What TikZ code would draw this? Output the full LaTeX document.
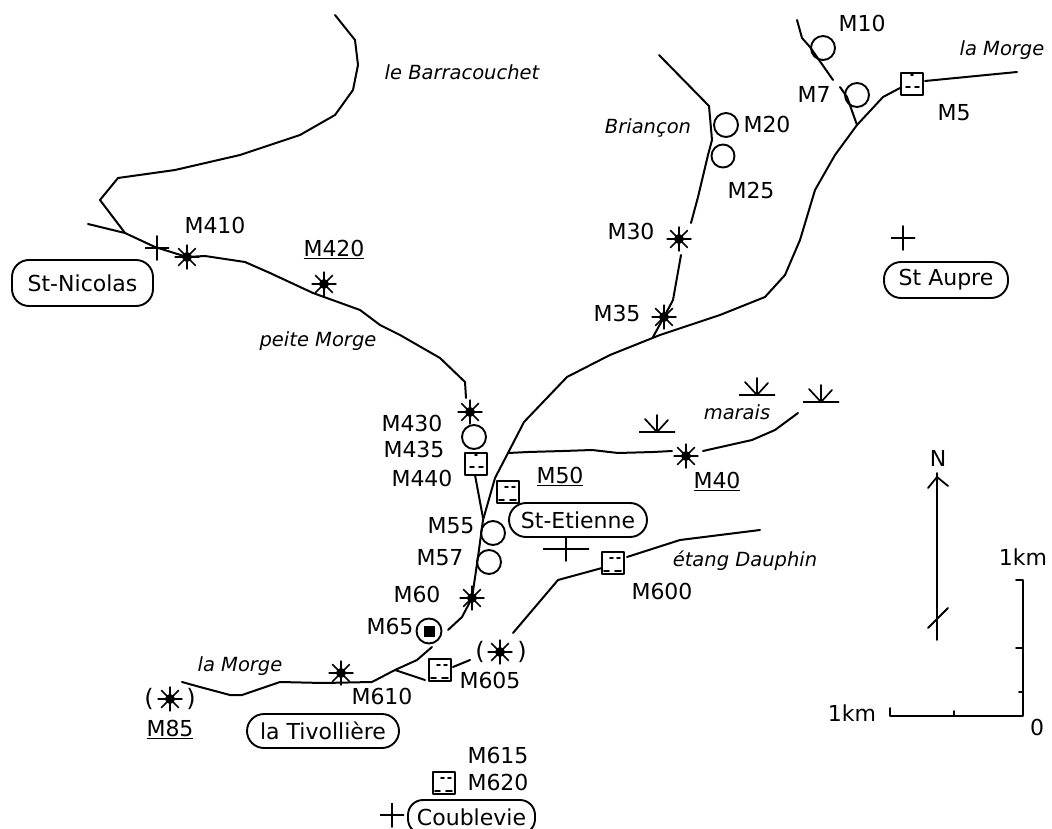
\documentclass[tikz,border=0pt]{standalone}
\usepackage{fontspec}
\setmainfont{DejaVu Sans}
\begin{document}
\begin{tikzpicture}[x=1pt,y=-1pt,line join=round,line cap=round,
  every node/.style={inner sep=0pt,outer sep=0pt,font=\fontsize{22}{24}\selectfont},
  river/.style={line width=2pt,black},
  thin line/.style={line width=1.8pt,black},
  lab/.style={anchor=center},
  ital/.style={anchor=center,font=\fontsize{19.5}{21}\itshape},
  town/.style={draw,line width=1.9pt,rounded corners=17pt,align=center},
  spring/.style={circle,draw,line width=1.9pt,minimum size=24pt},
  starmark/.style={circle,minimum size=25pt,path picture={
    \foreach \a in {0,45,90,135}{
      \draw[line width=1.7pt,black] ([shift={(\a:12.5)}]path picture bounding box.center) -- ([shift={(\a+180:12.5)}]path picture bounding box.center);}
    \fill[black] (path picture bounding box.center) circle (5);}},
  hutmark/.style={rectangle,draw,line width=2pt,fill=white,minimum size=22pt,path picture={
    \draw[line width=1.7pt,black] ([shift={(-6,3)}]path picture bounding box.center) -- ++(4,0)
      ([shift={(3,3)}]path picture bounding box.center) -- ++(4,0)
      ([shift={(-1,-9)}]path picture bounding box.center) -- ++(2,0);}},
  hutlow/.style={rectangle,draw,line width=2pt,fill=white,minimum size=22pt,path picture={
    \draw[line width=1.7pt,black] ([shift={(-3,-5)}]path picture bounding box.center) -- ++(3,0)
      ([shift={(4,-5)}]path picture bounding box.center) -- ++(3,0)
      ([shift={(-9,8)}]path picture bounding box.center) -- ++(5,0)
      ([shift={(2,8)}]path picture bounding box.center) -- ++(6,0);}},
  wellmark/.style={circle,draw,line width=1.9pt,minimum size=25pt,path picture={
    \fill[black] ([shift={(-5.5,-5.5)}]path picture bounding box.center) rectangle ++(11,11);}},
  marsh/.style={minimum width=36pt,minimum height=20pt,path picture={
    \draw[line width=1.8pt,black] (path picture bounding box.south west)++(0,-1) -- ++(36,0);
    \draw[line width=1.7pt,black] (path picture bounding box.south)++(0,-1) -- ++(0,-17)
      (path picture bounding box.south)++(0,-1) -- ++(-12,-13)
      (path picture bounding box.south)++(0,-1) -- ++(11,-12);}},
  crossmark/.style={minimum size=24pt,path picture={
    \draw[line width=1.8pt,black] (path picture bounding box.north) -- (path picture bounding box.south)
      (path picture bounding box.west) -- (path picture bounding box.east);}}
]
\useasboundingbox (0,0) rectangle (1052,829);
\clip (0,0) rectangle (1052,829);
% markers
\node[starmark] (s410) at (187,257) {};
\node[starmark] (s420) at (324,284) {};
\node[starmark] (s430) at (470,412) {};
\node[starmark] (s30) at (679,239) {};
\node[starmark] (s35) at (664,317) {};
\node[starmark] (s40) at (686,456) {};
\node[starmark] (s60) at (472,598) {};
\node[starmark] (s610) at (341,673) {};
\node[starmark] (s605) at (500,652) {};
\node[starmark] (s85) at (170,699) {};
% rivers
\draw[river] (335,15) -- (355,40) -- (358,65) -- (353,90) -- (335,115) -- (300,135) -- (240,155) -- (175,170) -- (118,178) -- (100,200) -- (125,233);
\draw[river] (88,224) -- (125,233) -- (155,247) -- (s410.center) -- (205,256) -- (245,262) -- (270,273) -- (313,293) -- (360,310) -- (380,325) -- (400,335) -- (440,358) -- (465,382) -- (466,398);
\draw[river] (475,475) -- (483,518);
\draw[river] (1017,72) -- (925,81);
\draw[river] (900,88) -- (883,97) -- (857,125) -- (835,155) -- (815,190) -- (800,240) -- (785,275) -- (765,297) -- (720,315) -- (660,335) -- (610,355) -- (567,377) -- (524,422) -- (508,453) -- (495,478) -- (483,520) -- (478,557) -- (s60.center) -- (462,617) -- (448,630);
\draw[river] (432,647) -- (417,660) -- (395,670) -- (372,682) -- (323,683) -- (280,682) -- (242,695) -- (230,695) -- (200,687) -- (182,682);
\draw[river] (395,670) -- (425,680);
\draw[river] (453,667) -- (470,660);
\draw[river] (513,633) -- (558,580) -- (602,568);
\draw[river] (627,557) -- (680,540) -- (760,530);
\draw[river] (508,453) -- (528,452) -- (563,451) -- (592,450) -- (618,453) -- (653,452) -- (672,451);
\draw[river] (703,451) -- (752,440) -- (775,430) -- (798,413);
\draw[river] (659,55) -- (709,106) -- (712,140) -- (708,155) -- (698,197) -- (691,223);
\draw[river] (681,255) -- (673,300) -- (s35.center) -- (653,337);
\draw[river] (797,20) -- (802,38) -- (810,47) -- (833,80);
\draw[river] (840,87) -- (847,97) -- (857,125);
% springs
\node[spring] (c10) at (823,48) {};
\node[spring] (c7) at (857,95) {};
\node[spring] (c20) at (726,125) {};
\node[spring,minimum size=23pt] (c25) at (723,156) {};
\node[spring] (c435) at (474,437) {};
\node[spring] (c55) at (493,533) {};
\node[spring] (c57) at (489,562) {};
\node[wellmark] (w65) at (429,631) {};
% huts
\node[hutmark] (h5) at (912,84) {};
\node[hutmark] (h440) at (476,464) {};
\node[hutlow] (h50) at (508,492) {};
\node[hutlow] (h600) at (613,563) {};
\node[hutlow] (h605) at (440,670) {};
\node[hutlow] (h620) at (444,783) {};
% marsh
\node[marsh] (m1) at (657,423) {};
\node[marsh] (m2) at (757,386) {};
\node[marsh] (m3) at (821,393) {};
% crosses
\node[crossmark] (x1) at (157,248) {};
\node[crossmark] (x2) at (903,238) {};
\node[crossmark,minimum width=46pt] (x3) at (566,549) {};
\node[crossmark] (x4) at (392,815) {};
% towns
\node[town,minimum width=141pt,minimum height=46pt] (tn) at (82.5,283) {St-Nicolas};
\node[town,minimum width=124pt,minimum height=36pt] (ta) at (946,280) {St Aupre};
\node[town,minimum width=138pt,minimum height=34pt,fill=white] (te) at (578,520) {St-Etienne};
\node[town,minimum width=152pt,minimum height=34pt] (tt) at (323,731) {la Tivollière};
\node[town,minimum width=127pt,minimum height=34pt,rounded corners=15pt] (tc) at (471.5,817) {Coublevie};
% labels
\node[ital] (l1) at (462,72) {le Barracouchet};
\node[lab] (l2) at (215,225) {M410};
\node[lab] (l3) at (334,249) {\underline{M420}};
\node[ital] (l4) at (318,341) {peite Morge};
\node[lab] (l5) at (412,423) {M430};
\node[lab] (l6) at (414,449) {M435};
\node[lab] (l7) at (422,478) {M440};
\node[lab] (l8) at (560,476) {\underline{M50}};
\node[lab] (l9) at (451,526) {M55};
\node[lab] (l10) at (440,558) {M57};
\node[lab] (l11) at (417,594) {M60};
\node[lab] (l12) at (390,626) {M65};
\node[lab] (l13) at (662,591) {M600};
\node[ital] (l14) at (745,561) {étang Dauphin};
\node[ital] (l15) at (737,412) {marais};
\node[lab] (l16) at (717,481) {\underline{M40}};
\node[lab] (l17) at (490,680) {M605};
\node[lab] (l18) at (382,696) {M610};
\node[lab] (l19) at (170,729) {\underline{M85}};
\node[ital] (l20) at (240,666) {la Morge};
\node[lab] (l21) at (498,755) {M615};
\node[lab] (l22) at (498,782) {M620};
\node[lab] (l23) at (862,23) {M10};
\node[lab] (l24) at (814,94) {M7};
\node[ital] (l25) at (1002,50) {la Morge};
\node[lab] (l26) at (954,113) {M5};
\node[lab] (l27) at (767,124) {M20};
\node[lab] (l28) at (751,190) {M25};
\node[lab] (l29) at (631,231) {M30};
\node[lab] (l30) at (617,313) {M35};
\node[ital] (l31) at (648,128) {Briançon};
\node[lab] (l32) at (1023,557) {1km};
\node[lab] (l33) at (852,713) {1km};
\node[lab] (l34) at (1037,727) {0};
\node[lab] (l35) at (938,458) {N};
% parentheses for uncertain stars
\node[lab,font=\fontsize{24}{24}\selectfont] (p1) at (480,652) {(};
\node[lab,font=\fontsize{24}{24}\selectfont] (p2) at (522,652) {)};
\node[lab,font=\fontsize{24}{24}\selectfont] (p3) at (149,699) {(};
\node[lab,font=\fontsize{24}{24}\selectfont] (p4) at (191,699) {)};
% north arrow
\coordinate (na) at (937,473); \coordinate (nb) at (937,640);
\draw[thin line] (na) -- (nb);
\draw[thin line] (928,488) -- (937,477) -- (948,486);
\draw[thin line] (928,628) -- (948,608);
% scale
\coordinate (o) at (1023,716); \coordinate (sv) at (1023,580); \coordinate (sh) at (890,716);
\draw[thin line] (1016,580) -- (sv) -- (o) -- (sh) -- (890,708);
\draw[thin line] (1016,648) -- (1023,648);
\draw[thin line] (1019,692) -- (1023,692);
\draw[thin line] (954,716) -- (954,711);
\end{tikzpicture}
\end{document}
